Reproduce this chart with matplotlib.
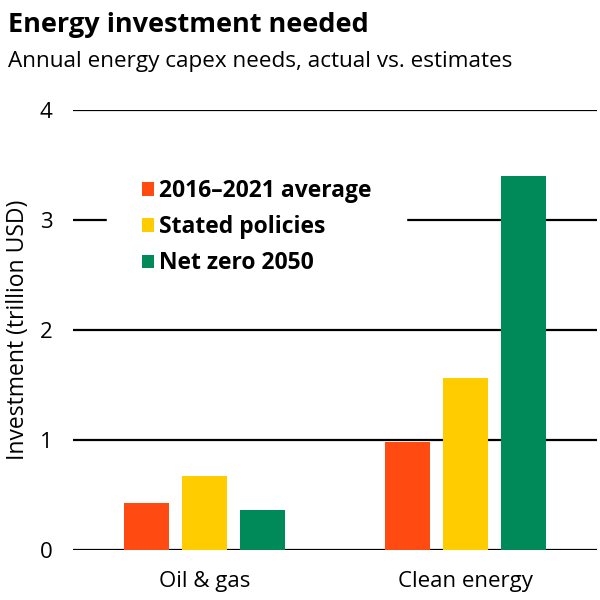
import matplotlib
matplotlib.use("Agg")
import matplotlib.pyplot as plt
import numpy as np
from matplotlib.patches import Patch

categories = ["Oil & gas", "Clean energy"]
series_names = ["2016\u20132021 average", "Stated policies", "Net zero 2050"]
avg_2016_2021 = [0.43, 0.98]
stated_policies = [0.67, 1.56]
net_zero_2050 = [0.36, 3.40]
colors = ["#FF4A12", "#FFCC00", "#008A5A"]
yticks = [0, 1, 2, 3, 4]

plt.rcParams['font.family'] = ['Open Sans', 'DejaVu Sans']

fig = plt.figure(figsize=(6, 6), dpi=100)
ax = fig.add_axes([0.122, 0.0833, 0.873, 0.7334])

x = np.arange(len(categories))
width = 0.172
offset = 0.222
series = [avg_2016_2021, stated_policies, net_zero_2050]
for i, (vals, c) in enumerate(zip(series, colors)):
    ax.bar(x + (i - 1) * offset, vals, width, color=c, zorder=3)

ax.set_ylim(0, 4)
ax.set_xlim(-0.504, 1.504)
ax.set_yticks(yticks)
ax.set_yticklabels([str(t) for t in yticks], fontsize=16)
ax.set_xticks(x)
ax.set_xticklabels(categories, fontsize=16)
ax.tick_params(axis='both', length=0)
ax.tick_params(axis='y', pad=15)
ax.tick_params(axis='x', pad=15)
for t in yticks:
    ax.axhline(t, color='black', lw=1.6, zorder=1)
for s in ax.spines.values():
    s.set_visible(False)
ax.set_ylabel("Investment (trillion USD)", fontsize=16.5, labelpad=7)

handles = [Patch(facecolor=c, edgecolor='none') for c in colors]
leg = ax.legend(handles, series_names, loc='upper left',
                bbox_to_anchor=(0.065, 0.921), frameon=True, fancybox=False,
                facecolor='white', edgecolor='white', framealpha=1,
                prop={'weight': 'bold', 'size': 16.5}, handlelength=0.52,
                handleheight=0.52, handletextpad=0.26, labelspacing=0.53,
                borderpad=1.5, borderaxespad=0)
leg.set_zorder(2)

fig.text(0.013, 0.958, "Energy investment needed", fontsize=19.5, fontweight='bold', va='center')
fig.text(0.013, 0.897, "Annual energy capex needs, actual vs. estimates", fontsize=16.2, va='center')

fig.savefig("out.png", dpi=100)
